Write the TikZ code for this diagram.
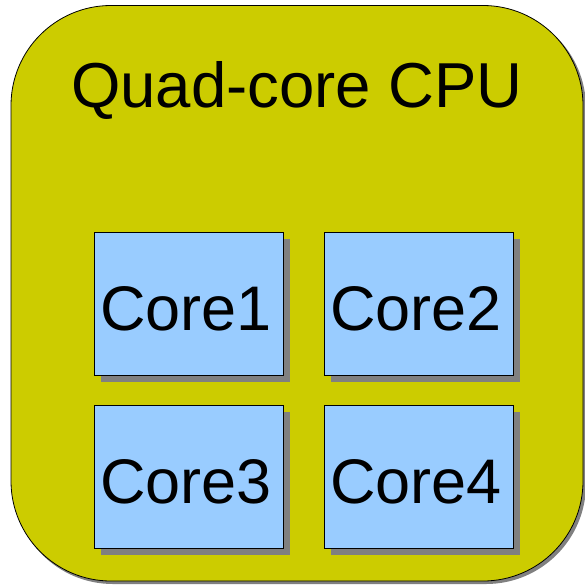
\documentclass[tikz,border=0pt]{standalone}
\usepackage{fontspec}
\setmainfont{Liberation Sans}
\definecolor{cpufill}{HTML}{CCCC00}
\definecolor{corefill}{HTML}{99CCFF}
\definecolor{shadowgray}{HTML}{808080}
\begin{document}
\begin{tikzpicture}[x=1pt,y=-1pt,
  cpubox/.style={fill=cpufill,draw=black,line width=0.8pt,rounded corners=100pt},
  corebox/.style={fill=corefill,draw=black,line width=0.7pt},
  shade/.style={fill=shadowgray,draw=none},
  label/.style={font=\fontsize{63.5}{64}\selectfont,inner sep=0pt,anchor=base},
  corelabel/.style={font=\fontsize{63}{64}\selectfont,inner sep=0pt,anchor=base}]
  \useasboundingbox (0,0) rectangle (585,584);
  % CPU package with its shadow
  \fill[shadowgray,rounded corners=100pt] (13,8) rectangle (586,584);
  \path[cpubox] (11,5.5) rectangle (583,581);
  \node[label] (cpu) at (297,107) {Quad-core CPU};
  % cores: shadow first, then the box
  \foreach \name/\x/\y/\txt in {c1/94/232/Core1, c2/324/232/Core2, c3/94/405/Core3, c4/324/405/Core4}{
    \fill[shade] (\x+7,\y+7) rectangle (\x+196,\y+150);
    \path[corebox] (\x,\y) rectangle (\x+189,\y+143);
    \node[corelabel] (\name) at (\x+92,\y+98) {\txt};
  }
\end{tikzpicture}
\end{document}
